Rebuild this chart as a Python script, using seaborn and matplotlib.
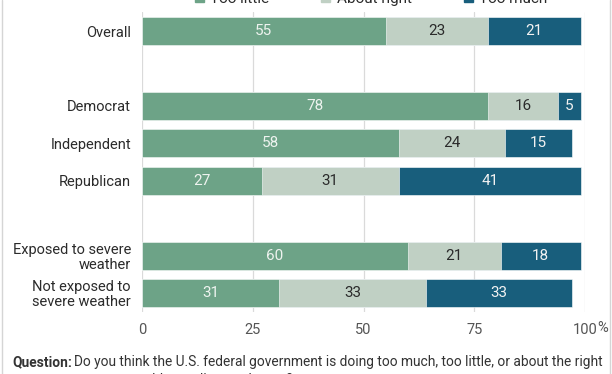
import matplotlib
matplotlib.use('Agg')
import matplotlib.pyplot as plt
from matplotlib.lines import Line2D
from matplotlib.patches import Patch
import seaborn as sns
import pandas as pd
import numpy as np

# data
groups = ['Overall', 'Democrat', 'Independent', 'Republican',
          'Exposed to severe\nweather', 'Not exposed to\nsevere weather']
too_little = [55, 78, 58, 27, 60, 31]
about_right = [23, 16, 24, 31, 21, 33]
too_much = [21, 5, 15, 41, 18, 33]
series = ['Too little', 'About right', 'Too much']
colors = ['#6DA387', '#C0D0C4', '#185E7C']
label_colors = ['#EEF3EF', '#2B2B2B', '#F2F2F2']
row_order = ['Overall', ' ', 'Democrat', 'Independent', 'Republican', '  ',
             'Exposed to severe\nweather', 'Not exposed to\nsevere weather']

sns.set_theme(style='white')
plt.rcParams['font.family'] = ['Roboto', 'DejaVu Sans']

df = pd.DataFrame({'group': groups, 'Too little': too_little,
                   'About right': about_right, 'Too much': too_much})
vals = df[series].to_numpy()
cum = np.cumsum(vals, axis=1)

fig = plt.figure(figsize=(6.12, 3.74), dpi=100)
ax = fig.add_axes([142 / 612, 1 - 311.7 / 374, 443 / 612, 299.4 / 374])

# stacked: draw cumulative totals from the largest down
for i in range(2, -1, -1):
    sns.barplot(x=cum[:, i], y=df['group'], order=row_order, color=colors[i],
                width=0.75, saturation=1, ax=ax, edgecolor='white', linewidth=0.4,
                zorder=3)

pos = {g: row_order.index(g) for g in groups}
for r, g in enumerate(groups):
    for i in range(3):
        start = cum[r, i] - vals[r, i]
        ax.text(start + vals[r, i] / 2, pos[g], str(vals[r, i]), ha='center',
                va='center', fontsize=11, color=label_colors[i], zorder=4)

ax.set_xlim(0, 100)
ax.set_ylim(7.5, -0.5)
ax.set_xticks([0, 25, 50, 75, 100])
ax.set_xticklabels(['0', '25', '50', '75', '100'])
ax.tick_params(axis='x', length=0, pad=8, labelsize=10.5, labelcolor='#555555')
ax.tick_params(axis='y', length=0, pad=8, labelsize=10.5, labelcolor='#2B2B2B')
ax.set_yticks(range(len(row_order)))
ax.set_yticklabels(row_order, linespacing=1.05)
ax.set_xlabel('')
ax.set_ylabel('')
for s in ax.spines.values():
    s.set_visible(False)
for x in [0, 25, 50, 75, 100]:
    ax.axvline(x, color='#DADADA', lw=0.9, zorder=1)
ax.annotate('%', xy=(100, 0), xycoords=('data', 'axes fraction'),
            xytext=(12, -16), textcoords='offset pixels', fontsize=10.5,
            color='#555555', ha='left', va='center')

# legend, cut at top edge
handles = [Patch(color=c) for c in colors]
fig.legend(handles, series, loc='center', bbox_to_anchor=(371 / 612, 1 + 1 / 374),
           ncol=3, frameon=False, fontsize=11, handlelength=0.6, handleheight=0.6,
           handletextpad=0.4, columnspacing=3.4, labelcolor='#2B2B2B')

# footer
fig.text(12 / 612, 1 - 362 / 374, 'Question:', fontsize=9.9, fontweight='bold',
         color='#333333', va='center')
fig.text(74 / 612, 1 - 362 / 374,
         'Do you think the U.S. federal government is doing too much, too little, or about the right',
         fontsize=9.9, color='#333333', va='center')
fig.text(74 / 612, 1 - 380 / 374, 'amount to address climate change?',
         fontsize=9.9, color='#333333', va='center')

# figure borders
fig.add_artist(Line2D([2 / 612, 2 / 612], [0, 1], color='#D5D5D5', lw=1))
fig.add_artist(Line2D([610 / 612, 610 / 612], [0, 1], color='#D5D5D5', lw=1))

fig.savefig('out.png', dpi=100)
